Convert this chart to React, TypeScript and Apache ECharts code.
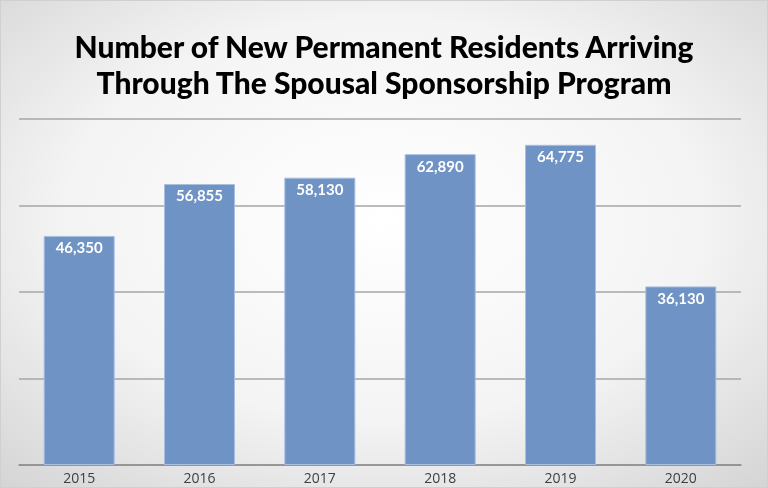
import React, { useEffect, useRef } from "react";
import * as echarts from "echarts";

const years = ["2015", "2016", "2017", "2018", "2019", "2020"];
const residents = [46350, 56855, 58130, 62890, 64775, 36130];
const titleLines = [
  "Number of New Permanent Residents Arriving",
  "Through The Spousal Sponsorship Program",
];

export default function App() {
  const ref = useRef<HTMLDivElement>(null);
  useEffect(() => {
    if (!ref.current) return;
    const chart = echarts.init(ref.current, undefined, { renderer: "svg" });
    chart.setOption({
      animation: false,
      backgroundColor: {
        type: "radial",
        x: 0.5,
        y: 0.45,
        r: 0.75,
        colorStops: [
          { offset: 0, color: "#ffffff" },
          { offset: 0.55, color: "#f4f4f4" },
          { offset: 1, color: "#d4d4d4" },
        ],
      },
      title: {
        text: titleLines.join("\n"),
        left: "center",
        top: 22,
        textStyle: {
          fontFamily: "Lato",
          fontWeight: 900,
          fontSize: 30,
          lineHeight: 36,
          color: "#000000",
        },
      },
      grid: { left: 18, right: 26, top: 118, bottom: 22, containLabel: false },
      xAxis: {
        type: "category",
        data: years,
        axisLine: { lineStyle: { color: "#8c8c8c", width: 1.5 } },
        axisTick: { show: false },
        axisLabel: {
          color: "#404040",
          fontFamily: "Open Sans",
          fontSize: 14,
          margin: 5,
        },
      },
      yAxis: {
        type: "value",
        min: 0,
        max: 70000,
        interval: 17500,
        axisLabel: { show: false },
        axisLine: { show: false },
        axisTick: { show: false },
        splitLine: { lineStyle: { color: "#a6a6a6", width: 1.5 } },
      },
      series: [
        {
          type: "bar",
          data: residents,
          barWidth: "59%",
          itemStyle: {
            color: "#6f93c4",
            borderColor: "#a8bfdf",
            borderWidth: 1,
          },
          label: {
            show: true,
            position: "insideTop",
            distance: 4,
            color: "#ffffff",
            fontFamily: "Lato",
            fontWeight: "bold",
            fontSize: 15,
            formatter: (p: any) => p.value.toLocaleString("en-US"),
          },
        },
      ],
    });
    return () => chart.dispose();
  }, []);
  return (
    <div
      ref={ref}
      style={{
        position: "fixed",
        left: 0,
        top: 0,
        width: 768,
        height: 488,
        boxSizing: "border-box",
        border: "1px solid #d0d0d0",
      }}
    />
  );
}
